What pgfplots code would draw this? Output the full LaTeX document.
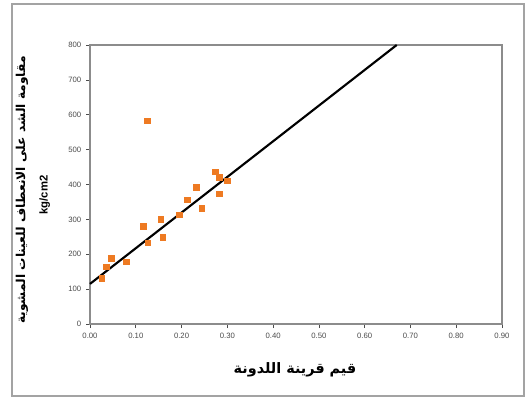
\documentclass[border=0pt]{standalone}
\usepackage{fontspec}
\setmainfont{Liberation Sans}
\newfontfamily\arabicfont[Script=Arabic]{DejaVu Sans}
\TeXXeTstate=1
\usepackage{pgfplots}
\pgfplotsset{compat=1.18}
\definecolor{ptorange}{HTML}{EE7A22}
\definecolor{framegray}{HTML}{8C8C8C}
\begin{document}
\begin{tikzpicture}
\useasboundingbox[fill=white] (-67.5pt,-56.25pt) rectangle (327.75pt,243pt);
\draw[framegray!80, line width=1.2pt] (-58.5pt,-54pt) rectangle (325.5pt,240pt);
\begin{axis}[
  at={(0pt,0pt)}, anchor=south west,
  scale only axis, width=309pt, height=209.25pt,
  xmin=0, xmax=0.9, ymin=0, ymax=800,
  xtick={0,0.1,...,0.9}, ytick={0,100,...,800},
  xticklabel style={/pgf/number format/.cd, fixed, fixed zerofill, precision=2, assume math mode=true},
  yticklabel style={/pgf/number format/assume math mode=true},
  tick label style={font=\fontsize{5.8}{6}\selectfont, text=black!70},
  tick align=outside, tick pos=left,
  major tick length=3pt,
  tick style={black!70, line width=0.5pt},
  axis line style={framegray, line width=0.8pt},
  clip=false,
]
\addplot[only marks, mark=square*, mark size=2.1pt, ptorange, mark options={fill=ptorange, draw=ptorange}] coordinates {
(0.125,583) (0.273,437) (0.283,421) (0.300,411) (0.232,392) (0.283,373)
(0.213,356) (0.244,332) (0.195,313) (0.155,300) (0.116,281) (0.159,249)
(0.126,233) (0.047,188) (0.079,179) (0.036,164) (0.026,131)
};
\addplot[black, line width=1.6pt] coordinates {(0,115) (0.67,800)};
\end{axis}
\node[rotate=90, font=\arabicfont\bfseries\fontsize{9.2}{10}\selectfont] at (-51pt,100.5pt) {\beginR مقاومة الشد على الانعطاف للعينات المشوية\endR};
\node[rotate=90, font=\bfseries\fontsize{8.5}{9}\selectfont] at (-34pt,96.75pt) {kg/cm2};
\node[font=\arabicfont\bfseries\fontsize{10.8}{12}\selectfont] at (153.75pt,-34.5pt) {\beginR قيم قرينة اللدونة\endR};
\end{tikzpicture}
\end{document}
